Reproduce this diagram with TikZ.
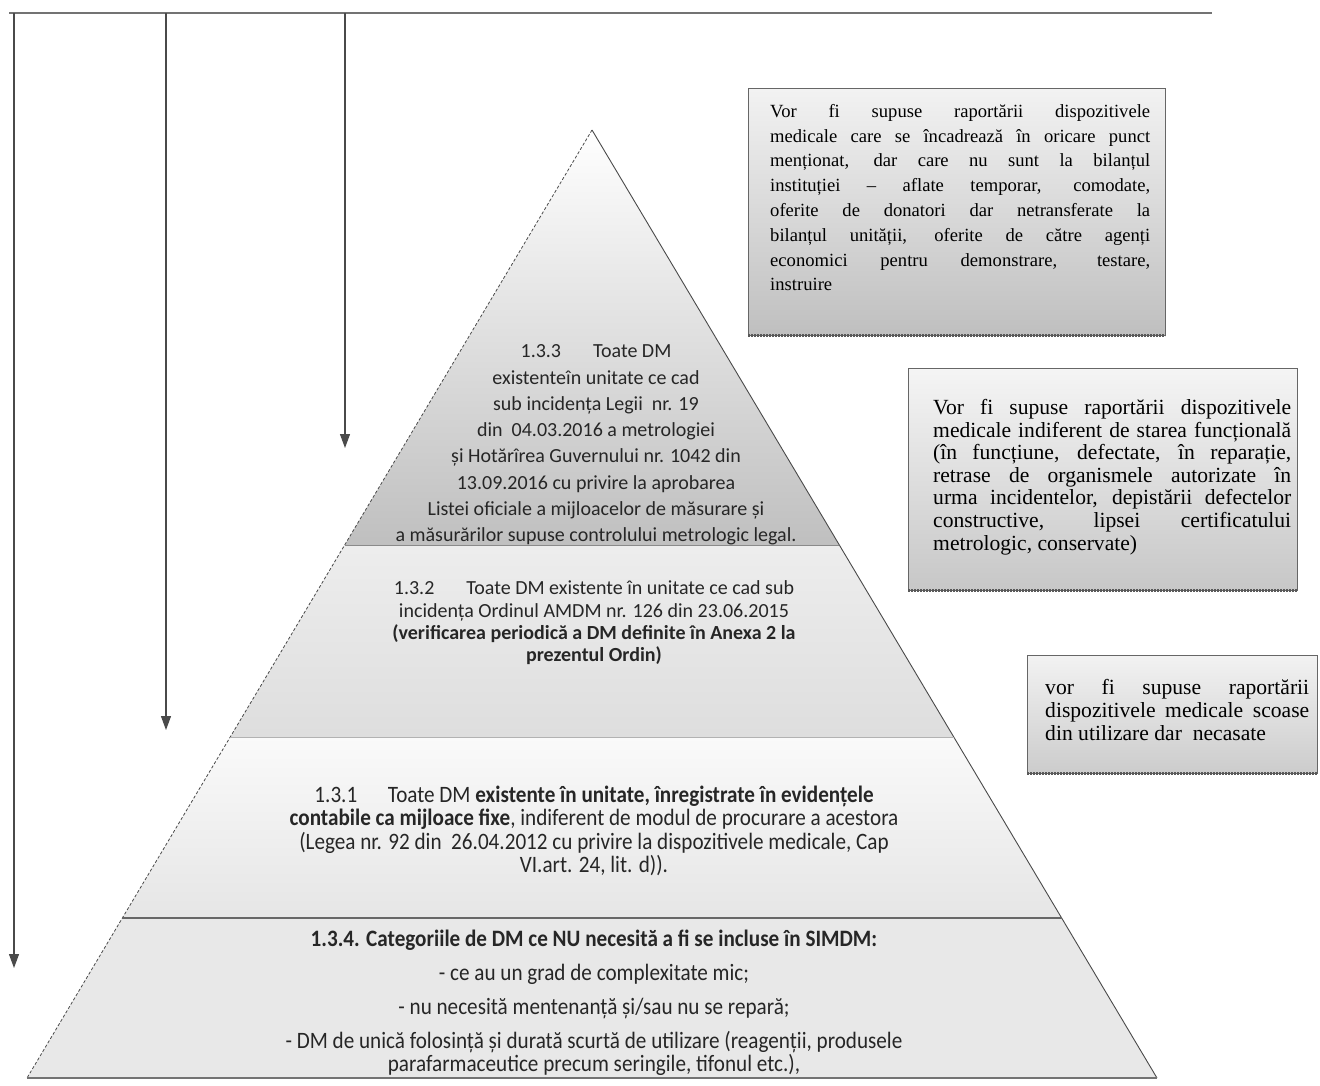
\documentclass[tikz,border=0pt]{standalone}
\usepackage{fontspec}
\setmainfont{Liberation Serif}
\newfontfamily\pyr{Carlito}
\newfontfamily\pyrc[FakeStretch=0.9]{Carlito}
\usetikzlibrary{arrows.meta,calc}
\definecolor{linegray}{HTML}{4A4A4A}
\definecolor{lvl}{HTML}{8A8A8A}
\newcommand{\boxpar}[2]{\parbox[t]{#1}{\tolerance=10000\relax
  \hyphenpenalty=10000\relax\noindent #2}}
\begin{document}
\begin{tikzpicture}[x=1pt,y=-1pt,
  conn/.style={draw=linegray, line width=1.1pt, -{Triangle[length=14pt,width=10pt]}},
  boxframe/.style={draw=black!60, line width=0.8pt},
  boxshadow/.style={draw=black!65, line width=3pt, dash pattern=on 2pt off 1pt},
  boxtext/.style={inner sep=0pt, anchor=north west},
  pyrtext/.style={inner sep=0pt, align=center, text=black!85},
  level/.style={draw=lvl, line width=1pt}
]
\useasboundingbox (0,0) rectangle (1320,1085);

% ---------- pyramid geometry ----------
\coordinate (apex) at (592,130);
\coordinate (bl) at (27,1078);
\coordinate (br) at (1157,1078);
\coordinate (l1) at ($(apex)!0.4378!(bl)$);
\coordinate (r1) at ($(apex)!0.4378!(br)$);
\coordinate (l2) at ($(apex)!0.6403!(bl)$);
\coordinate (r2) at ($(apex)!0.6403!(br)$);
\coordinate (l3) at ($(apex)!0.8312!(bl)$);
\coordinate (r3) at ($(apex)!0.8312!(br)$);

% fills
\shade[top color=white, bottom color=black!25] (apex) -- (r1) -- (l1) -- cycle;
\shade[top color=black!7, bottom color=black!13] (l1) -- (r1) -- (r2) -- (l2) -- cycle;
\shade[top color=black!2, bottom color=black!10] (l2) -- (r2) -- (r3) -- (l3) -- cycle;
\shade[top color=black!9, bottom color=black!9] (l3) -- (r3) -- (br) -- (bl) -- cycle;

% outlines
\draw[draw=linegray, line width=0.8pt, densely dashed] (apex) -- (bl);
\draw[draw=linegray, line width=0.9pt] (apex) -- (br);
\draw[level] (l1) -- (r1);
\draw[draw=black!30, line width=1pt] (l2) -- (r2);
\draw[draw=black!60, line width=1.8pt] (l3) -- (r3);
\draw[draw=black!55, line width=1.2pt] (bl) -- (br);

% ---------- pyramid texts ----------
\node[pyrtext, font=\pyr\fontsize{20}{26.3}\selectfont] (t133) at (596,445)
  {1.3.3\hspace{1.6em}Toate DM\\
   existenteîn unitate ce cad\\
   sub incidența Legii\ \ nr. 19\\
   din\ \ 04.03.2016 a metrologiei\\
   și Hotărîrea Guvernului nr. 1042 din\\
   13.09.2016 cu privire la aprobarea\\
   Listei oficiale a mijloacelor de măsurare și\\
   a măsurărilor supuse controlului metrologic legal.};

\node[pyrtext, font=\pyr\fontsize{20}{22.3}\selectfont] (t132) at (594,623)
  {1.3.2\hspace{1.6em}Toate DM existente în unitate ce cad sub\\
   incidența Ordinul AMDM nr. 126 din 23.06.2015\\
   \textbf{(verificarea periodică a DM definite în Anexa 2 la}\\
   \textbf{prezentul Ordin)}};

\node[pyrtext, font=\pyrc\fontsize{23.5}{23.5}\selectfont] (t131) at (594,831)
  {1.3.1\hspace{1.3em}Toate DM \textbf{existente în unitate, înregistrate în evidențele}\\
   \textbf{contabile ca mijloace fixe}, indiferent de modul de procurare a acestora\\
   (Legea nr. 92 din\ \ 26.04.2012 cu privire la dispozitivele medicale, Cap\\
   VI.art. 24, lit. d)).};

\node[pyrtext, font=\pyrc\fontsize{23.5}{23}\selectfont] (t134) at (594,1003)
  {\textbf{1.3.4. Categoriile de DM ce NU necesită a fi se incluse în SIMDM:}\\[11pt]
   - ce au un grad de complexitate mic;\\[11pt]
   - nu necesită mentenanță și/sau nu se repară;\\[11pt]
   - DM de unică folosință și durată scurtă de utilizare (reagenții, produsele\\
   parafarmaceutice precum seringile, tifonul etc.),};

% ---------- boxes ----------
\shade[top color=black!5, bottom color=black!25] (748,88) rectangle (1165,335);
\draw[boxframe] (748,88) rectangle (1165,335);
\draw[boxshadow] (748,335) -- (1165,335);
\node[boxtext, font=\fontsize{18.6}{24.8}\selectfont] (box1) at (770,104)
  {\boxpar{380pt}{Vor fi supuse raportării dispozitivele\linebreak
   medicale care se încadrează în oricare punct\linebreak
   menționat, dar care nu sunt la bilanțul\linebreak
   instituției – aflate temporar, comodate,\linebreak
   oferite de donatori dar netransferate la\linebreak
   bilanțul unității, oferite de către agenți\linebreak
   economici pentru demonstrare, testare,\linebreak
   instruire}};

\shade[top color=black!4, bottom color=black!22] (908,368) rectangle (1297,590);
\draw[boxframe] (908,368) rectangle (1297,590);
\draw[boxshadow] (908,590) -- (1297,590);
\node[boxtext, font=\fontsize{21.6}{22.6}\selectfont] (box2) at (933,399)
  {\boxpar{358pt}{Vor fi supuse raportării dispozitivele\linebreak
   medicale indiferent de starea funcțională\linebreak
   (în funcțiune, defectate, în reparație,\linebreak
   retrase de organismele autorizate în\linebreak
   urma incidentelor, depistării defectelor\linebreak
   constructive, lipsei certificatului\linebreak
   metrologic, conservate)}};

\shade[top color=black!5, bottom color=black!20] (1027,655) rectangle (1317,773);
\draw[boxframe] (1027,655) rectangle (1317,773);
\draw[boxshadow] (1027,773) -- (1317,773);
\node[boxtext, font=\fontsize{21.6}{23}\selectfont] (box3) at (1045,679)
  {\boxpar{264pt}{vor fi supuse raportării\linebreak
   dispozitivele medicale scoase\linebreak
   din utilizare dar\ \ necasate}};

% ---------- connectors ----------
\coordinate (tl) at (9,13);
\coordinate (tr) at (1212,13);
\coordinate (s1) at (14,13);
\coordinate (e1) at (14,968);
\coordinate (s2) at (166,13);
\coordinate (e2) at (166,730);
\coordinate (s3) at (345,13);
\coordinate (e3) at (345,448);
\draw[draw=black!55, line width=1.8pt] (tl) -- (tr);
\draw[conn] (s1) -- (e1);
\draw[conn] (s2) -- (e2);
\draw[conn] (s3) -- (e3);
\end{tikzpicture}
\end{document}
